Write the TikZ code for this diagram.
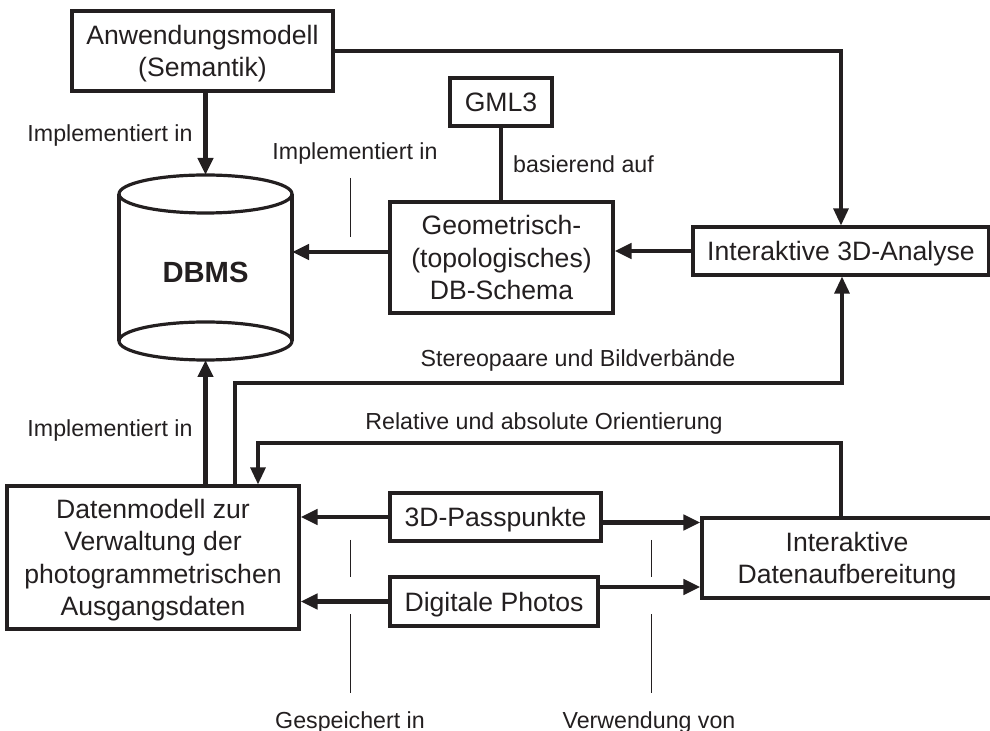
\documentclass[tikz,border=0pt]{standalone}
\usepackage{fontspec}
\setmainfont{Liberation Sans}
\usepackage{xcolor}
\usetikzlibrary{arrows.meta}
\definecolor{ink}{HTML}{231F20}
\tikzset{box/.style={draw=ink,line width=1.6pt,inner sep=0pt,align=center,text=ink,
        text depth=0pt,font=\fontsize{13.3}{16.2}\selectfont},
    tag/.style={text=ink,inner sep=0pt,anchor=base,font=\fontsize{11.6}{14}\selectfont},
    flowarrow/.style={draw=ink,line width=2.2pt,-{Triangle[length=8.5pt,width=7.5pt]}},
    linkarrow/.style={draw=ink,line width=1.6pt,-{Triangle[length=8.5pt,width=7.5pt]}},
    cutline/.style={draw=ink,line width=0.5pt}}

\begin{document}
\begin{tikzpicture}[x=0.5pt,y=-0.5pt]
	\useasboundingbox (0,0) rectangle (990,731);
	% boxes
	\node[box,minimum width=130.5pt,minimum height=40pt] (anw) at (202.5,51) {Anwendungsmodell\\(Semantik)};
	\node[box,minimum width=51pt,minimum height=24pt] (gml) at (501,102) {GML3};
	\node[box,minimum width=111.5pt,minimum height=55.5pt] (geo) at (501.5,257.5) {Geometrisch-\\(topologisches)\\DB-Schema};
	\node[box,minimum width=148pt,minimum height=24pt] (ana) at (841,251) {Interaktive 3D-Analyse};
	\node[box,minimum width=146pt,minimum height=71.5pt] (dat) at (153,557.5) {Datenmodell zur\\Verwaltung der\\photogrammetrischen\\Ausgangsdaten};
	\node[box,minimum width=105.5pt,minimum height=24pt] (pass) at (495.5,517) {3D-Passpunkte};
	\node[box,minimum width=104pt,minimum height=24.5pt] (pho) at (494,601.5) {Digitale Photos};
	\node[box,minimum width=145pt,minimum height=40pt] (auf) at (847,558) {Interaktive\\Datenaufbereitung};
	% database
	\node[minimum width=86.5pt,minimum height=92.5pt,inner sep=0pt,outer sep=0pt,text=ink,
		text height=15.5pt,text depth=0pt,font=\fontsize{14.6}{16}\selectfont\bfseries] (dbms) at (205.5,267.5) {DBMS};
	\draw[ink,line width=1.6pt] ([yshift=-9.5pt]dbms.north) ellipse [x radius=43.25pt,y radius=9.5pt];
	\draw[ink,line width=1.6pt] ([yshift=9.5pt]dbms.south) ellipse [x radius=43.25pt,y radius=9.5pt];
	\draw[ink,line width=1.6pt] ([yshift=-9.5pt]dbms.north west) -- ([yshift=9.5pt]dbms.south west)
		([yshift=-9.5pt]dbms.north east) -- ([yshift=9.5pt]dbms.south east);
	% labels
	\node[tag] (impla) at (110,142) {Implementiert in};
	\node[tag] (implb) at (355,160) {Implementiert in};
	\node[tag] (implc) at (110,437) {Implementiert in};
	\node[tag] (stereo) at (578,367) {Stereopaare und Bildverbände};
	\node[tag] (orient) at (544,430) {Relative und absolute Orientierung};
	\node[tag] (saved) at (350,728) {Gespeichert in};
	\node[tag] (used) at (649,728) {Verwendung von};
	% connectors
	\coordinate (stereoturn) at (842,383);
	\coordinate (orientturn) at (841,443);
	\draw[flowarrow] (anw.south -| dbms.north) -- (dbms.north);
	\draw[linkarrow] (anw.east) -| (ana.north);
	\draw[ink,line width=2.2pt] (gml.south) -- (gml.south |- geo.north)
		node[tag,midway,anchor=west,xshift=5pt] {basierend auf};
	\draw[flowarrow] ([yshift=2.75pt]geo.west) -- ([yshift=2.75pt]geo.west -| dbms.east);
	\draw[flowarrow] (ana.west) -- (ana.west -| geo.east);
	\draw[flowarrow] (dat.north -| dbms.south) -- (dbms.south);
	\draw[linkarrow] ([xshift=41pt]dat.north) |- (stereoturn) -- (stereoturn |- ana.south);
	\draw[linkarrow] (auf.north -| orientturn) -- (orientturn) -| ([xshift=52.5pt]dat.north);
	\draw[flowarrow] (pass.west) -- (pass.west -| dat.east);
	\draw[flowarrow] (pho.west) -- (pho.west -| dat.east);
	\draw[flowarrow] ([yshift=-2.75pt]pass.east) -- ([yshift=-2.75pt]pass.east -| auf.west);
	\draw[flowarrow] ([yshift=7.25pt]pho.east) -- ([yshift=7.25pt]pho.east -| auf.west);
	% cut marks
	\draw[cutline] (350,178) -- (350,237);
	\foreach \x in {350,651} {
		\draw[cutline] (\x,540) -- (\x,577);
		\draw[cutline] (\x,614) -- (\x,693);
	}
\end{tikzpicture}
\end{document}
